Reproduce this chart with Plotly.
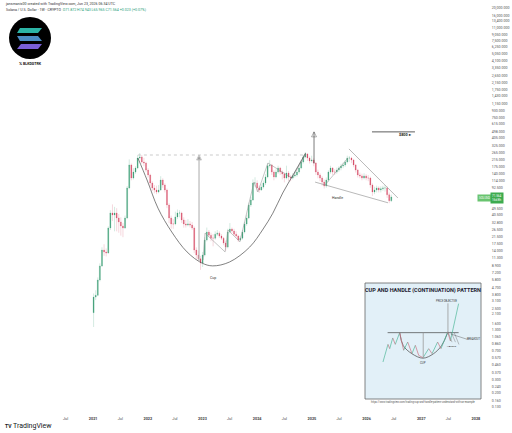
import pandas as pd
import plotly.graph_objects as go

# Solana candles (14 day bars)
first_open = 2.2
closes = [3.5, 3.7, 5.85, 8.9, 14.3, 13.5, 13.1, 27.6, 43.3, 40.8, 43.3, 37.3, 33.1, 29.3, 27.6, 37.3, 91.5, 182, 123, 147,
          166, 224, 231, 199, 193, 156, 135, 106, 91.5, 86, 81, 86, 116, 100, 86, 55, 37.3, 31.2, 31.2, 38.5,
          43.3, 43.3, 35.2, 31.2, 30.2, 31.2, 30.2, 27.6, 14.3, 12.3, 11, 9.7, 12.3, 19.3, 24.5, 22.3, 20.4, 20.4, 23, 23.7,
          21.7, 20.4, 17.6, 15.6, 24.5, 26.8, 25.3, 23, 21.7, 19.3, 20.4, 24.5, 31.2, 37.3, 55, 64, 106, 106, 91.5, 86,
          94, 106, 127, 178, 182, 147, 127, 147, 166, 147, 139, 123, 143, 127, 123, 131, 135, 147, 166, 199,
          231, 253, 224, 205, 211, 193, 147, 135, 123, 109, 97, 116, 147, 166, 147, 147, 156, 166, 176, 182,
          199, 224, 224, 211, 182, 156, 135, 131, 123, 131, 123, 123, 100, 81, 86, 91.5, 86, 89, 91.5, 91.5,
          74.5, 62.5, 70]
highs = [3.9, 4.3, 6.3, 9.6, 15.5, 17, 15, 29, 47, 56, 52, 50, 42, 38, 32, 40, 97, 215, 190, 165,
         175, 245, 260, 245, 225, 200, 165, 140, 112, 100, 98, 100, 130, 122, 105, 90, 58, 40, 36, 45,
         48, 47, 45, 38, 35, 36, 34, 33, 29, 15.5, 14, 12, 13.5, 21, 28, 26, 24, 23, 25, 26,
         25, 23, 21, 19, 27, 32, 28, 27, 25, 22.5, 22, 26, 33, 41, 59, 70, 118, 126, 115, 98,
         102, 114, 138, 192, 210, 188, 155, 160, 178, 172, 155, 145, 178, 152, 135, 142, 148, 158, 175, 210,
         245, 268, 258, 235, 240, 222, 198, 158, 142, 130, 118, 125, 155, 178, 170, 160, 168, 175, 188, 195,
         210, 240, 238, 232, 218, 188, 162, 145, 140, 142, 138, 135, 128, 105, 95, 98, 96, 96, 98, 100,
         96, 80, 74.9]
lows = [1.43, 3.2, 3.6, 5.6, 8.6, 12, 11.8, 12.8, 26, 34, 25, 25, 24, 22, 21, 27, 36, 88, 115, 118,
        140, 160, 215, 190, 175, 148, 125, 95, 84, 78, 76, 78, 84, 92, 80, 50, 32, 27, 27, 30,
        36, 38, 32, 28, 28, 29, 28, 26, 13, 11, 10.2, 7.9, 8.6, 11.8, 18.5, 21, 18.6, 16, 19.5, 21.8,
        20.5, 19.3, 16.5, 14, 15, 23.5, 23.8, 21.8, 20.6, 18.2, 18.6, 19.5, 23.5, 29.5, 36, 52, 62, 95, 82, 79,
        84, 90, 100, 122, 168, 135, 115, 122, 140, 135, 118, 108, 118, 112, 112, 118, 125, 128, 140, 160,
        190, 222, 205, 190, 195, 175, 135, 122, 112, 98, 90, 92, 110, 140, 135, 135, 140, 148, 155, 165,
        172, 190, 200, 192, 170, 145, 125, 122, 115, 118, 115, 112, 92, 72, 76, 80, 80, 80, 84, 82,
        68, 58, 60]
opens = [first_open] + closes[:-1]
bar_dates = pd.date_range('2021-01-04', periods=len(closes), freq='14D')

# right axis labels (the two behind the price tag are left out)
price_ticks = [20000, 16000, 13400, 11000, 9050, 7500, 6250, 5050, 4100, 3350, 2650, 2150, 1750, 1430, 1150, 930, 750, 615,
               498, 405, 325, 265, 215, 175, 140, 114, 92.5, 49.5, 40.5, 32.8, 26.5, 21.5, 17.5, 14, 11.3, 8.9,
               7.2, 5.8, 4.7, 3.8, 3.1, 2.5, 2.1, 1.6, 1.3, 1.06, 0.86, 0.7, 0.57, 0.46, 0.37, 0.3, 0.24, 0.2, 0.16, 0.13]
time_ticks = ['2020-07-01', '2021-01-01', '2021-07-01', '2022-01-01', '2022-07-01', '2023-01-01', '2023-07-01', '2024-01-01',
              '2024-07-01', '2025-01-01', '2025-07-01', '2026-01-01', '2026-07-01', '2027-01-01', '2027-07-01', '2028-01-01']
time_labels = ['Jul', '<b>2021</b>', 'Jul', '<b>2022</b>', 'Jul', '<b>2023</b>', 'Jul', '<b>2024</b>',
               'Jul', '<b>2025</b>', 'Jul', '<b>2026</b>', 'Jul', '<b>2027</b>', 'Jul', '<b>2028</b>']

# drawings on the chart
cup_dates = ['2021-10-27', '2021-12-27', '2022-03-10', '2022-06-10', '2022-09-20', '2022-12-28', '2023-03-10', '2023-07-01',
             '2023-11-12', '2024-02-10', '2024-04-15', '2024-06-20', '2024-08-28', '2024-11-20']
cup_prices = [224, 116, 50, 24.5, 13.5, 9.7, 8.9, 10, 15.6, 26.8, 43, 78.7, 135, 260]
wave_dates = ['2023-01-05', '2023-01-18', '2023-06-01', '2023-06-20', '2023-09-08', '2023-12-11', '2024-01-06', '2024-03-13',
              '2024-08-20', '2024-11-22', None, '2025-03-29', '2025-08-29']
wave_prices = [10.6, 23.7, 13.5, 26, 18.3, 109, 81, 193, 123, 253, None, 100, 224]
rim_dates = ['2021-10-27', '2024-11-22']
rim_prices = [245, 245]
depth_dates = ['2022-12-09', '2022-12-09']
depth_prices = [10, 245]
breakout_dates = ['2025-01-15', '2025-01-15']
breakout_prices = [190, 489]
target_dates = ['2026-02-06', '2026-11-20']
target_prices = [489, 489]
handle_low_dates = ['2025-01-22', '2026-05-24']
handle_low_prices = [109, 58.7]
handle_high_dates = ['2025-09-05', '2026-07-29']
handle_high_prices = [294, 67.8]

# inset sketch, 0-100 on both sides of the panel
inset_up_x = [15.5, 19.8, None, 21.3, 23.9, None, 26.1, 29.9, None, 33.3, 36.8, None, 40.5, 43.4, None, 50, 54.9, None,
              57.8, 62.6, None, 65.5, 71.3, None, 73.6, 76, 80.7]
inset_up_y = [31.9, 47.1, None, 43.4, 52.6, None, 47.1, 57.2, None, 42, 49.1, None, 39.1, 46.3, None, 35.6, 43.4, None,
              39.1, 49.1, None, 43.4, 57.8, None, 50, 60, 82.2]
inset_down_x = [19.8, 21.3, None, 23.9, 26.1, None, 29.9, 33.3, None, 36.8, 40.5, None, 43.4, 46.3, 50, None, 54.9, 57.8,
                None, 62.6, 65.5, None, 71.3, 73.6]
inset_down_y = [47.1, 43.4, None, 52.6, 47.1, None, 57.2, 42, None, 49.1, 39.1, None, 46.3, 37.6, 35.6, None, 43.4, 39.1,
                None, 49.1, 43.4, None, 57.8, 50]
inset_cup_x = [29.9, 33, 40.5, 50, 59, 66, 71.3]
inset_cup_y = [57.2, 46, 39, 35.2, 39, 46, 57.2]

GREEN = '#3f9f77'
RED = '#d8506a'
W, H = 484, 411


def px(x):
    return x / W


def py(y):
    return 1 - y / H


def note(x, y, text, size=4, color='#333333', anchor='center', **kw):
    return dict(x=px(x), y=py(y), xref='paper', yref='paper', text=text, showarrow=False,
                font=dict(size=size, color=color), xanchor=anchor, yanchor='middle', **kw)


def bar_path(points):
    return 'M ' + ' L '.join(f'{px(a)} {py(b)}' for a, b in points) + ' Z'


def line(x, y, color, width, dash='solid', **kw):
    return go.Scatter(x=x, y=y, mode='lines', line=dict(color=color, width=width, dash=dash), hoverinfo='skip', **kw)


fig = go.Figure()
fig.add_trace(go.Candlestick(
    x=bar_dates, open=opens, high=highs, low=lows, close=closes, whiskerwidth=0,
    increasing=dict(line=dict(color='rgba(63,159,119,0.45)', width=0.5), fillcolor=GREEN),
    decreasing=dict(line=dict(color='rgba(216,80,106,0.45)', width=0.5), fillcolor=RED)
))
fig.add_trace(line(rim_dates, rim_prices, '#a8a8a8', 0.6, dash='dot'))
fig.add_trace(line(wave_dates, wave_prices, '#8a8a8a', 0.5))
fig.add_trace(line(cup_dates, cup_prices, '#4a4a4a', 0.7))
fig.data[-1].line.shape = 'spline'
fig.add_trace(go.Scatter(x=depth_dates, y=depth_prices, mode='lines+markers', line=dict(color='#b8b8b8', width=1.2),
                         marker=dict(symbol=['circle', 'arrow-up'], size=[0, 5], color='#777777'), hoverinfo='skip'))
fig.add_trace(go.Scatter(x=breakout_dates, y=breakout_prices, mode='lines+markers', line=dict(color='#444444', width=0.7),
                         marker=dict(symbol=['circle', 'arrow-up-open'], size=[0, 5], color='#444444',
                                     line=dict(color='#444444', width=0.6)), hoverinfo='skip'))
fig.add_trace(line(target_dates, target_prices, '#333333', 0.8))
fig.add_trace(line(handle_low_dates, handle_low_prices, '#8a8a8a', 0.6))
fig.add_trace(line(handle_high_dates, handle_high_prices, '#8a8a8a', 0.6))

# inset panel
fig.add_trace(line([19.5, 80.7], [57.2, 57.2], '#444444', 0.7, xaxis='x2', yaxis='y2'))
fig.add_trace(line(inset_cup_x, inset_cup_y, '#444444', 0.7, xaxis='x2', yaxis='y2'))
fig.data[-1].line.shape = 'spline'
fig.add_trace(line(inset_up_x, inset_up_y, '#4fb79a', 0.7, xaxis='x2', yaxis='y2'))
fig.add_trace(line(inset_down_x, inset_down_y, '#c9707c', 0.7, xaxis='x2', yaxis='y2'))
fig.add_trace(line([50.2, 50.2], [35.6, 57.2], '#999999', 0.8, xaxis='x2', yaxis='y2'))
fig.add_trace(line([71.5, 71.5], [57.2, 82.5], '#999999', 0.8, xaxis='x2', yaxis='y2'))
fig.add_trace(line([71.5, 75, None, 74, 78, None, 77, 81], [58, 49, None, 58, 49, None, 57, 47], '#666666', 0.4,
                   xaxis='x2', yaxis='y2'))
fig.add_trace(line([74, 88], [56, 51.5], '#444444', 0.4, xaxis='x2', yaxis='y2'))

shapes = [
    dict(type='rect', xref='paper', yref='paper', x0=px(365), x1=px(481), y0=py(399), y1=py(283),
         fillcolor='#e2f0f8', line=dict(color='#666666', width=0.8), layer='below'),
    dict(type='circle', xref='paper', yref='paper', x0=px(9), x1=px(51), y0=py(59), y1=py(17),
         fillcolor='#000000', line=dict(width=0)),
    dict(type='path', xref='paper', yref='paper', path=bar_path([(20, 28), (42, 28), (38, 33), (17, 33)]),
         fillcolor='#2cb4a6', line=dict(width=0)),
    dict(type='path', xref='paper', yref='paper', path=bar_path([(17, 36), (38, 36), (42, 41), (20, 41)]),
         fillcolor='#4b8cc4', line=dict(width=0)),
    dict(type='path', xref='paper', yref='paper', path=bar_path([(21, 44), (42, 44), (38, 49), (17, 49)]),
         fillcolor='#7a5fd8', line=dict(width=0)),
]

annotations = [
    note(3, 3.5, 'jansmanis00 created with TradingView.com, Jun 23, 2026 06:34 UTC', anchor='left', size=3.6),
    note(4, 9.5, 'Solana / U.S. Dollar · 1W · CRYPTO  <span style="color:#2a9d78">O71.872 H74.943 L65.965 C71.564 +0.023 (+0.07%)</span>',
         anchor='left', size=3.6),
    note(30, 64, '<b>𝕏 BLKDGTRK</b>', size=3.6, color='#111111'),
    note(213, 278, 'Cup', size=3.5),
    note(337, 198, 'Handle', size=3.5),
    note(405, 135, '<b>$800 ▸</b>', size=3.8, color='#222222'),
    note(423, 290.5, '<b>CUP AND HANDLE (CONTINUATION) PATTERN</b>', size=5.5, color='#1c2030'),
    note(423, 402, 'https://www.tradingview.com/trading-cup-and-handle-pattern-understand-with-an-example', size=2.6, color='#555555'),
    note(447, 300.5, 'PRICE OBJECTIVE', size=2.6),
    note(423, 363, 'CUP', size=2.8),
    note(473, 338.5, 'BREAKOUT', size=2.6),
    note(452, 346, 'HANDLE', size=2.4),
    note(11, 426, 'TradingView', size=7, color='#131722', anchor='left'),
    note(3, 426, '<b>TV</b>', size=5, color='#131722', anchor='left'),
    # last price tag
    note(484, 197.5, 'SOLUSD', size=3, color='#ffffff', bgcolor='#69c46f', borderpad=1),
    note(496.5, 197.5, '71.564<br>16d 8h', size=3, color='#ffffff', bgcolor='#3dab4f', borderpad=1),
]

fig.update_layout(
    width=512,
    height=433,
    margin=dict(l=0, r=512 - W, t=0, b=433 - H),
    paper_bgcolor='white',
    plot_bgcolor='rgba(0,0,0,0)',
    showlegend=False,
    font=dict(family='Roboto, sans-serif'),
    shapes=shapes,
    annotations=annotations,
    xaxis=dict(type='date', range=['2019-04-20', '2028-02-24'], rangeslider=dict(visible=False), showgrid=False, zeroline=False,
               tickmode='array', tickvals=time_ticks, ticktext=time_labels, tickfont=dict(size=3.8, color='#444444'),
               ticks='outside', ticklen=3, tickcolor='rgba(0,0,0,0)', showline=False),
    yaxis=dict(type='log', range=[-0.935, 4.402], side='right', showgrid=False, zeroline=False, tickmode='array',
               tickvals=price_ticks, ticktext=[f'{v:,.3f}' for v in price_ticks], tickfont=dict(size=3.6, color='#555555'),
               ticks='outside', ticklen=6, tickcolor='rgba(0,0,0,0)', showline=False),
    xaxis2=dict(domain=[px(365), px(481)], range=[0, 100], visible=False, anchor='y2'),
    yaxis2=dict(domain=[py(399), py(283)], range=[0, 100], visible=False, anchor='x2')
)

fig.write_html("out.html", post_script="document.body.style.margin='0';", config=dict(displayModeBar=False))
